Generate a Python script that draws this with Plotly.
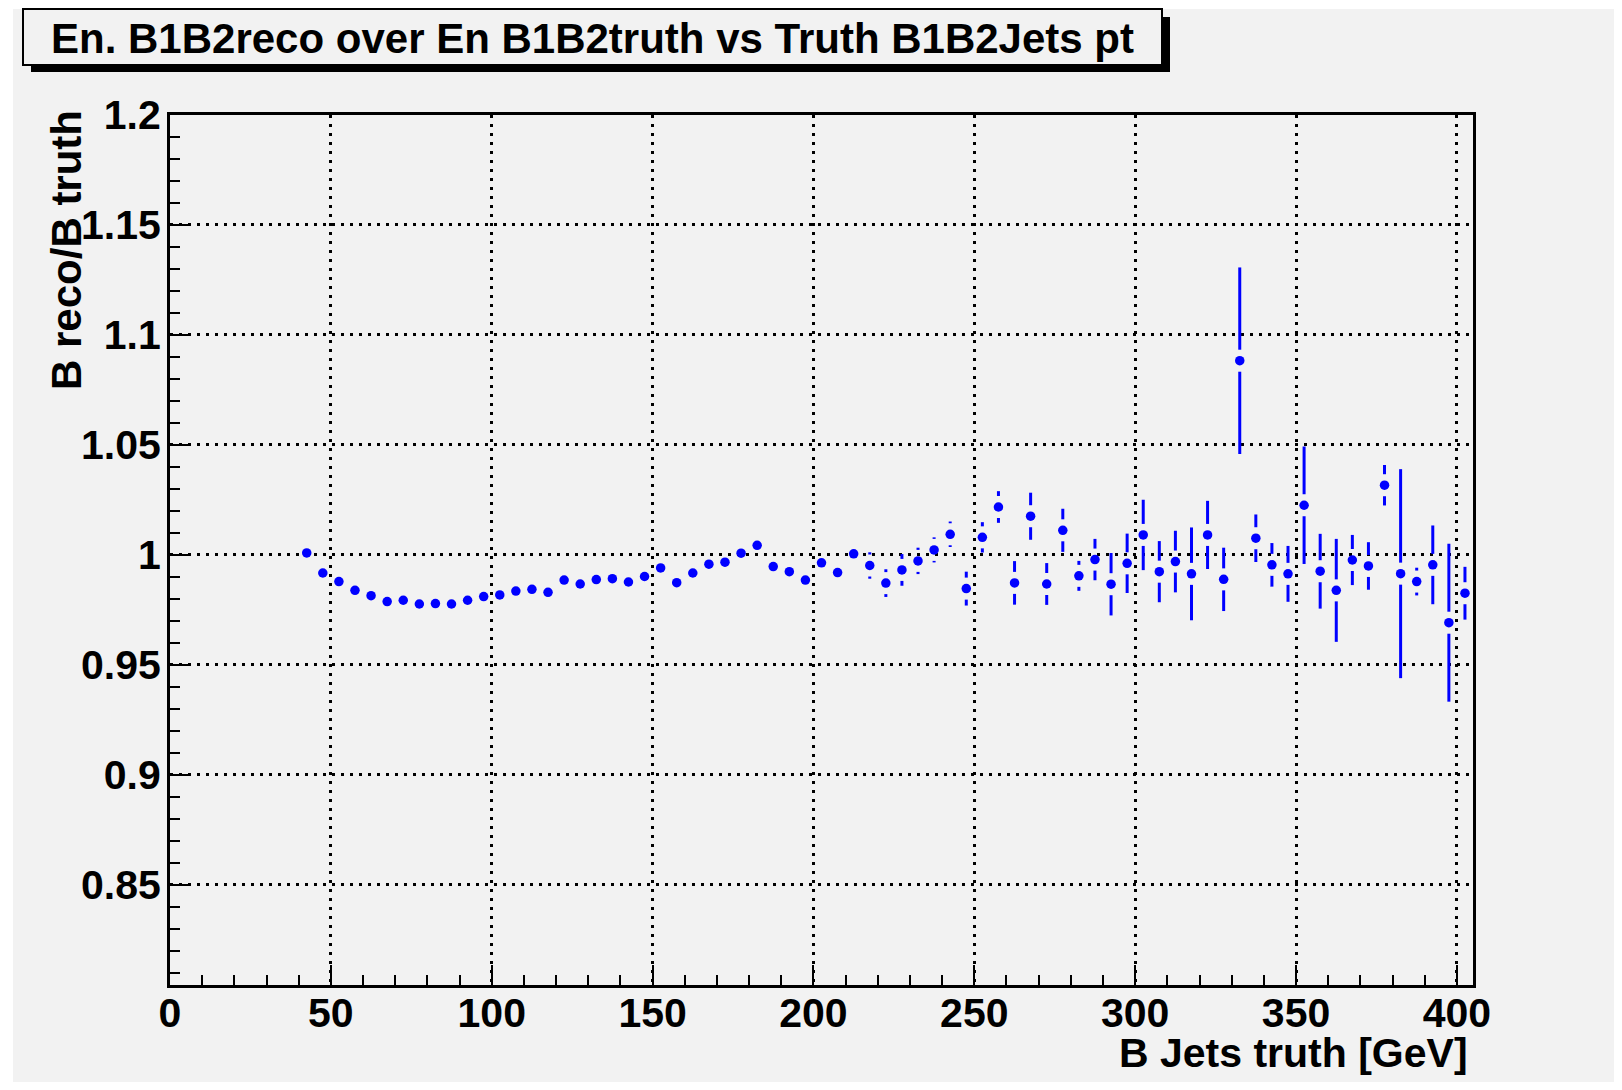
import plotly.graph_objects as go

# bin centres (truth B jet pt, GeV)
pt_truth = [42.5, 47.5, 52.5, 57.5, 62.5, 67.5, 72.5, 77.5, 82.5, 87.5,
            92.5, 97.5, 102.5, 107.5, 112.5, 117.5, 122.5, 127.5, 132.5, 137.5,
            142.5, 147.5, 152.5, 157.5, 162.5, 167.5, 172.5, 177.5, 182.5, 187.5,
            192.5, 197.5, 202.5, 207.5, 212.5, 217.5, 222.5, 227.5, 232.5, 237.5,
            242.5, 247.5, 252.5, 257.5, 262.5, 267.5, 272.5, 277.5, 282.5, 287.5,
            292.5, 297.5, 302.5, 307.5, 312.5, 317.5, 322.5, 327.5, 332.5, 337.5,
            342.5, 347.5, 352.5, 357.5, 362.5, 367.5, 372.5, 377.5, 382.5, 387.5,
            392.5, 397.5, 402.5]

# B reco / B truth energy ratio
ratio = [1.0009, 0.9918, 0.9879, 0.9839, 0.9815, 0.9788, 0.9794, 0.9777, 0.9779, 0.9777,
         0.9794, 0.9811, 0.9818, 0.9836, 0.9844, 0.9830, 0.9886, 0.9868, 0.9888, 0.9892,
         0.9877, 0.9902, 0.9941, 0.9874, 0.9918, 0.9958, 0.9967, 1.0008, 1.0044, 0.9947,
         0.9924, 0.9886, 0.9964, 0.9920, 1.0005, 0.9952, 0.9872, 0.9932, 0.9973, 1.0023,
         1.0094, 0.9847, 1.0080, 1.0218, 0.9873, 1.0176, 0.9868, 1.0112, 0.9905, 0.9979,
         0.9867, 0.9962, 1.0091, 0.9924, 0.9970, 0.9914, 1.0091, 0.9889, 1.0883, 1.0076,
         0.9955, 0.9914, 1.0226, 0.9926, 0.9839, 0.9977, 0.9950, 1.0317, 0.9915, 0.9879,
         0.9955, 0.9692, 0.9826]

# errors on the ratio
ratio_err = [0.0010, 0.0010, 0.0011, 0.0011, 0.0012, 0.0012, 0.0013, 0.0013, 0.0014, 0.0014,
             0.0015, 0.0015, 0.0016, 0.0017, 0.0018, 0.0018, 0.0019, 0.0020, 0.0021, 0.0022,
             0.0023, 0.0024, 0.0025, 0.0026, 0.0027, 0.0028, 0.0029, 0.0030, 0.0031, 0.0032,
             0.0034, 0.0036, 0.0038, 0.0040, 0.0042, 0.0060, 0.0063, 0.0072, 0.0060, 0.0057,
             0.0058, 0.0077, 0.0069, 0.0072, 0.0099, 0.0107, 0.0095, 0.0098, 0.0068, 0.0094,
             0.0142, 0.0135, 0.0160, 0.0139, 0.0140, 0.0211, 0.0155, 0.0144, 0.0424, 0.0108,
             0.0099, 0.0127, 0.0267, 0.0170, 0.0234, 0.0114, 0.0108, 0.0092, 0.0475, 0.0063,
             0.0179, 0.0359, 0.0120]

TITLE = "En. B1B2reco over En B1B2truth vs Truth B1B2Jets pt"
X_TITLE = "B Jets truth [GeV]"
Y_TITLE = "B reco/B truth"

# ── geometry (window pixels; the page body adds an 8px margin) ────────────────
OFF = 8
W, H = 1606, 1074
PLOT_L, PLOT_R, PLOT_T, PLOT_B = 170, 1473, 115, 985     # in window pixels
ML, MT = PLOT_L - OFF, PLOT_T - OFF
MR, MB = W - (PLOT_R - OFF), H - (PLOT_B - OFF)
X_RANGE = [0, 405]
Y_RANGE = [0.8045, 1.2]
GAP_PX = 11          # ROOT leaves a gap in the error bar around the marker

FONT = "Liberation Sans, Arial, Helvetica, sans-serif"
BG = "#f2f2f2"


def px(x):
    return (x - PLOT_L) / (PLOT_R - PLOT_L)


def py(y):
    return (PLOT_B - y) / (PLOT_B - PLOT_T)


gap = GAP_PX * (Y_RANGE[1] - Y_RANGE[0]) / (PLOT_B - PLOT_T)
seg_x, seg_y = [], []
for x, y, e in zip(pt_truth, ratio, ratio_err):
    if e > gap:
        seg_x += [x, x, None, x, x, None]
        seg_y += [y + gap, y + e, None, y - gap, y - e, None]

fig = go.Figure()

fig.add_trace(go.Scatter(
    x=seg_x, y=seg_y, mode="lines",
    line=dict(color="#0000ff", width=3),
    hoverinfo="skip", showlegend=False,
))

fig.add_trace(go.Scatter(
    x=pt_truth, y=ratio, mode="markers",
    marker=dict(color="#0000ff", size=9.5, symbol="circle", line=dict(width=0)),
    showlegend=False,
))

# ── canvas + title box ───────────────────────────────────────────────────────
fig.add_shape(type="rect", xref="paper", yref="paper",
              x0=px(13), x1=px(W + OFF + 10), y0=py(9), y1=py(H + OFF + 10),
              fillcolor=BG, line_width=0, layer="below")
fig.add_shape(type="rect", xref="paper", yref="paper",
              x0=px(31), x1=px(1170), y0=py(17), y1=py(72),
              fillcolor="black", line_width=0, layer="above")
fig.add_shape(type="rect", xref="paper", yref="paper",
              x0=px(23), x1=px(1162), y0=py(9), y1=py(65),
              fillcolor=BG, line=dict(color="black", width=2), layer="above")

fig.add_annotation(x=px(592), y=py(38), xref="paper", yref="paper",
                   text=TITLE, showarrow=False, xanchor="center", yanchor="middle",
                   font=dict(family=FONT, size=42, color="black", weight="bold"))
fig.add_annotation(x=px(1470), y=py(1053), xref="paper", yref="paper",
                   text=X_TITLE, showarrow=False, xanchor="right", yanchor="middle",
                   font=dict(family=FONT, size=41, color="black", weight="bold"))
fig.add_annotation(x=px(67), y=py(250), xref="paper", yref="paper",
                   text=Y_TITLE, showarrow=False, textangle=-90,
                   xanchor="center", yanchor="middle",
                   font=dict(family=FONT, size=42, color="black", weight="bold"))

axis_common = dict(
    showline=True, linecolor="black", linewidth=3, mirror=True,
    ticks="inside", ticklen=20, tickwidth=2, tickcolor="black",
    showgrid=True, gridcolor="black", gridwidth=2.5, griddash="3px,6px",
    zeroline=False,
    tickfont=dict(family=FONT, size=41, color="black", weight="bold"),
)

fig.update_xaxes(
    range=X_RANGE, tickmode="linear", tick0=0, dtick=50,
    minor=dict(tickmode="linear", tick0=0, dtick=10, ticks="inside", ticklen=10,
               tickwidth=2, tickcolor="black", showgrid=False),
    ticklabelstandoff=-10,
    **axis_common,
)
fig.update_yaxes(
    range=Y_RANGE, tickmode="linear", tick0=0, dtick=0.05,
    minor=dict(tickmode="linear", tick0=0, dtick=0.01, ticks="inside", ticklen=10,
               tickwidth=2, tickcolor="black", showgrid=False),
    ticklabelstandoff=-2,
    **axis_common,
)

fig.update_layout(
    width=W, height=H,
    margin=dict(l=ML, r=MR, t=MT, b=MB, pad=0),
    paper_bgcolor="white",
    plot_bgcolor=BG,
    showlegend=False,
)

fig.write_html("out.html")
